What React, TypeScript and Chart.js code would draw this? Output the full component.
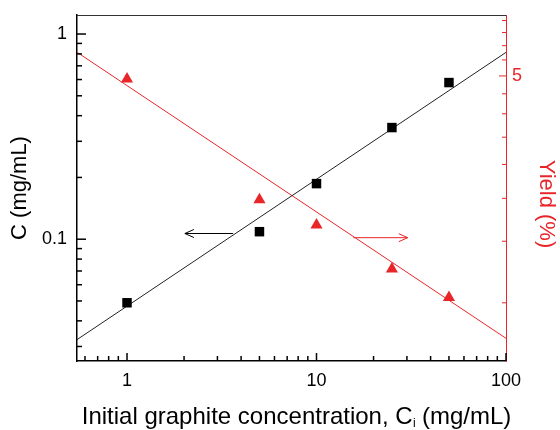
import React, { useEffect, useRef } from 'react';
import { Chart, registerables } from 'chart.js';

Chart.register(...registerables);

// ---- data ----
const concentrations = [1, 5, 10, 25, 50];
const cValues = [0.049, 0.1088, 0.1866, 0.35, 0.58];
const yieldValues = [4.9, 2.2, 1.86, 1.39, 1.15];

const fitX = [0.5446, 100];
const cFitValues = [0.0324, 0.814];
const yieldFitValues = [5.85, 0.877];

const xRange = [0.5446, 100];
const leftRange = [0.02549, 1.238];
const rightRange = [0.7546, 7.49];

const xTicks = [0.6, 0.7, 0.8, 0.9, 1, 2, 3, 4, 5, 6, 7, 8, 9, 10, 20, 30, 40, 50, 60, 70, 80, 90, 100];
const xLabels = [1, 10, 100];
const leftTicks = [0.03, 0.04, 0.05, 0.06, 0.07, 0.08, 0.09, 0.1, 0.2, 0.3, 0.4, 0.5, 0.6, 0.7, 0.8, 0.9, 1];
const leftLabels = [0.1, 1];
const rightTicks = [1.11, 1.67, 2.22, 2.78, 3.33, 3.89, 4.44, 5, 5.56, 6.11, 6.67, 7.22];
const rightLabels = [5];

// arrows (data coordinates): [tailX, headX], y value
const leftArrowX = [3.63, 2.02];
const leftArrowY = 0.1066;
const rightArrowX = [15.64, 30.3];
const rightArrowY = 1.71;

const RED = '#e8262a';
const FONT = '"Liberation Sans", Arial, sans-serif';

const has = (list: number[], v: number) => list.some((l) => Math.abs(l - v) < 1e-9);

const toPoints = (xs: number[], ys: number[]) => xs.map((x, i) => ({ x, y: ys[i] }));

const zeroPad = (s: any) => {
  s.paddingTop = 0;
  s.paddingBottom = 0;
  s.paddingLeft = 0;
  s.paddingRight = 0;
};

const decorPlugin = {
  id: 'decor',
  afterDraw(chart: any) {
    const { ctx, chartArea } = chart;
    const sx = chart.scales.x;
    const sl = chart.scales.y;
    const sr = chart.scales.y2;
    const { left, right, top, bottom } = chartArea;
    ctx.save();

    // top border
    ctx.strokeStyle = '#333';
    ctx.lineWidth = 1;
    ctx.beginPath();
    ctx.moveTo(left, top + 0.5);
    ctx.lineTo(right, top + 0.5);
    ctx.stroke();

    // inward ticks
    ctx.lineWidth = 1.5;
    ctx.strokeStyle = '#000';
    sx.ticks.forEach((t: any) => {
      const p = sx.getPixelForValue(t.value);
      const len = has(xLabels, t.value) ? 8 : 5;
      ctx.beginPath();
      ctx.moveTo(p, bottom);
      ctx.lineTo(p, bottom - len);
      ctx.stroke();
    });
    sl.ticks.forEach((t: any) => {
      const p = sl.getPixelForValue(t.value);
      const len = has(leftLabels, t.value) ? 9 : 5;
      ctx.beginPath();
      ctx.moveTo(left, p);
      ctx.lineTo(left + len, p);
      ctx.stroke();
    });
    ctx.strokeStyle = RED;
    ctx.lineWidth = 1;
    sr.ticks.forEach((t: any) => {
      const p = sr.getPixelForValue(t.value);
      const len = has(rightLabels, t.value) ? 7 : 4;
      ctx.beginPath();
      ctx.moveTo(right, p);
      ctx.lineTo(right - len, p);
      ctx.stroke();
    });

    // arrows
    const arrow = (x0: number, x1: number, y: number, color: string) => {
      ctx.strokeStyle = color;
      ctx.lineWidth = 1;
      ctx.beginPath();
      ctx.moveTo(x0, y);
      ctx.lineTo(x1, y);
      const dir = x1 > x0 ? -1 : 1;
      ctx.moveTo(x1 + dir * 9, y - 4);
      ctx.lineTo(x1, y);
      ctx.lineTo(x1 + dir * 9, y + 4);
      ctx.stroke();
    };
    arrow(sx.getPixelForValue(leftArrowX[0]), sx.getPixelForValue(leftArrowX[1]), sl.getPixelForValue(leftArrowY), '#000');
    arrow(sx.getPixelForValue(rightArrowX[0]), sx.getPixelForValue(rightArrowX[1]), sr.getPixelForValue(rightArrowY), RED);

    // side titles
    const sideFont = `22px ${FONT}`;
    ctx.font = sideFont;
    ctx.textBaseline = 'alphabetic';
    ctx.textAlign = 'center';
    ctx.fillStyle = '#000';
    ctx.save();
    ctx.translate(26, (top + bottom) / 2);
    ctx.rotate(-Math.PI / 2);
    ctx.fillText('C (mg/mL)', 0, 0);
    ctx.restore();

    ctx.fillStyle = RED;
    ctx.save();
    ctx.translate(540, 204);
    ctx.rotate(Math.PI / 2);
    ctx.fillText('Yield (%)', 0, 0);
    ctx.restore();

    // bottom title with subscript
    const tf = 24;
    ctx.fillStyle = '#000';
    ctx.textAlign = 'left';
    const s1 = 'Initial graphite concentration, C';
    const s2 = 'i';
    const s3 = ' (mg/mL)';
    const subFont = `${Math.round(tf * 0.5)}px ${FONT}`;
    const mainFont = `${tf}px ${FONT}`;
    ctx.font = mainFont;
    const w1 = ctx.measureText(s1).width;
    const w3 = ctx.measureText(s3).width;
    ctx.font = subFont;
    const w2 = ctx.measureText(s2).width;
    const total = w1 + w2 + w3;
    const cx = (left + right) / 2 + 5;
    let x = cx - total / 2;
    const by = 424;
    ctx.font = mainFont;
    ctx.fillText(s1, x, by);
    x += w1;
    ctx.font = subFont;
    ctx.fillText(s2, x + 0.5, by + 3);
    x += w2;
    ctx.font = mainFont;
    ctx.fillText(s3, x, by);

    ctx.restore();
  },
};

export default function App() {
  const ref = useRef<HTMLCanvasElement | null>(null);

  useEffect(() => {
    if (!ref.current) return;
    const tickFont = { family: FONT, size: 18 };
    const chart = new Chart(ref.current, {
      type: 'scatter',
      data: {
        datasets: [
          {
            label: 'C',
            data: toPoints(concentrations, cValues),
            yAxisID: 'y',
            pointStyle: 'rect',
            pointRadius: 6.7,
            backgroundColor: '#000',
            borderWidth: 0,
            showLine: false,
            order: 1,
          },
          {
            label: 'Yield',
            data: toPoints(concentrations, yieldValues),
            yAxisID: 'y2',
            pointStyle: 'triangle',
            pointRadius: 7,
            backgroundColor: RED,
            borderWidth: 0,
            showLine: false,
            order: 1,
          },
          {
            label: 'C fit',
            data: toPoints(fitX, cFitValues),
            yAxisID: 'y',
            showLine: true,
            pointRadius: 0,
            borderColor: '#222',
            borderWidth: 1,
            order: 2,
          },
          {
            label: 'Yield fit',
            data: toPoints(fitX, yieldFitValues),
            yAxisID: 'y2',
            showLine: true,
            pointRadius: 0,
            borderColor: RED,
            borderWidth: 1,
            order: 2,
          },
        ],
      },
      options: {
        animation: false,
        responsive: false,
        layout: { padding: { top: 15, left: 0, right: 0, bottom: 0 } },
        plugins: { legend: { display: false }, tooltip: { enabled: false } },
        scales: {
          x: {
            type: 'logarithmic',
            position: 'bottom',
            min: xRange[0],
            max: xRange[1],
            afterBuildTicks: (s: any) => {
              s.ticks = xTicks.map((v) => ({ value: v }));
            },
            afterFit: (s: any) => {
              s.height = 69;
              zeroPad(s);
            },
            ticks: {
              autoSkip: false,
              maxRotation: 0,
              padding: 9,
              font: tickFont,
              color: '#000',
              callback: (v: any) => (has(xLabels, Number(v)) ? String(v) : ''),
            },
            grid: { display: true, drawOnChartArea: false, drawTicks: false },
            border: { display: true, color: '#000', width: 1.5 },
          },
          y: {
            type: 'logarithmic',
            position: 'left',
            min: leftRange[0],
            max: leftRange[1],
            afterBuildTicks: (s: any) => {
              s.ticks = leftTicks.map((v) => ({ value: v }));
            },
            afterFit: (s: any) => {
              s.width = 77;
              zeroPad(s);
            },
            ticks: {
              autoSkip: false,
              padding: 10,
              font: tickFont,
              color: '#000',
              callback: (v: any) => (has(leftLabels, Number(v)) ? String(v) : ''),
            },
            grid: { display: true, drawOnChartArea: false, drawTicks: false },
            border: { display: true, color: '#000', width: 1.5 },
          },
          y2: {
            type: 'logarithmic',
            position: 'right',
            min: rightRange[0],
            max: rightRange[1],
            afterBuildTicks: (s: any) => {
              s.ticks = rightTicks.map((v) => ({ value: v }));
            },
            afterFit: (s: any) => {
              s.width = 54;
              zeroPad(s);
            },
            ticks: {
              autoSkip: false,
              padding: 6,
              font: tickFont,
              color: RED,
              callback: (v: any) => (has(rightLabels, Number(v)) ? String(v) : ''),
            },
            grid: { display: true, drawOnChartArea: false, drawTicks: false },
            border: { display: true, color: RED, width: 1 },
          },
        },
      },
      plugins: [decorPlugin],
    } as any);
    return () => chart.destroy();
  }, []);

  return (
    <div style={{ position: 'fixed', left: 0, top: 0, width: 560, height: 430, background: '#fff' }}>
      <canvas ref={ref} width={560} height={430} style={{ width: 560, height: 430 }} />
    </div>
  );
}
